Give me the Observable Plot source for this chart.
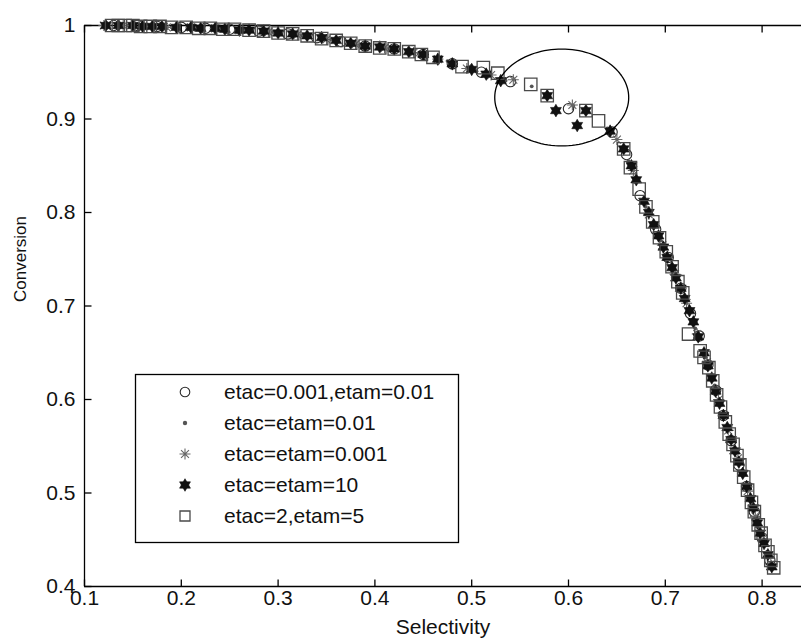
<!DOCTYPE html>
<html>
<head>
<meta charset="utf-8">
<script src="https://cdn.jsdelivr.net/npm/d3@7"></script>
<script src="https://cdn.jsdelivr.net/npm/@observablehq/plot@0.6"></script>
<style>
  html, body { margin: 0; padding: 0; background: #fff; }
  #chart { width: 801px; height: 644px; }
</style>
</head>
<body>
<div id="chart"></div>
<script>
// ---------- data ----------
const xDomain = [0.1, 0.8407];
const yDomain = [0.4, 1];
const xTicks = [0.1, 0.2, 0.3, 0.4, 0.5, 0.6, 0.7, 0.8];
const yTicks = [0.4, 0.5, 0.6, 0.7, 0.8, 0.9, 1];
const xLabel = "Selectivity";
const yLabel = "Conversion";
const seriesNames = ["etac=0.001,etam=0.01", "etac=etam=0.01", "etac=etam=0.001", "etac=etam=10", "etac=2,etam=5"];

// etac=0.001,etam=0.01 (circles)
const circlePts = [
  [0.13,1.000],[0.155,1.000],[0.175,0.999],[0.2,0.998],[0.225,0.997],[0.25,0.996],[0.28,0.994],
  [0.31,0.991],[0.34,0.987],[0.365,0.983],[0.39,0.978],[0.42,0.975],[0.45,0.969],[0.48,0.959],
  [0.51,0.950],[0.54,0.940],[0.6,0.911],[0.645,0.886],[0.66,0.862],[0.674,0.818],[0.69,0.782],
  [0.703,0.752],[0.716,0.719],[0.726,0.692],[0.735,0.668],[0.744,0.637],[0.752,0.610],[0.76,0.583],
  [0.768,0.556],[0.776,0.530],[0.784,0.507],[0.792,0.480],[0.8,0.452],[0.808,0.428]
];
// etac=etam=0.01 (points)
const pointPts = [
  [0.125,1.000],[0.145,1.000],[0.165,0.999],[0.19,0.998],[0.215,0.997],[0.24,0.996],[0.265,0.995],
  [0.295,0.993],[0.325,0.989],[0.355,0.985],[0.385,0.979],[0.415,0.975],[0.445,0.970],[0.475,0.962],
  [0.505,0.951],[0.535,0.941],[0.562,0.935],[0.605,0.914],[0.64,0.890],[0.662,0.855],[0.68,0.806],
  [0.695,0.770],[0.708,0.738],[0.72,0.708],[0.731,0.676],[0.742,0.645],[0.751,0.615],[0.761,0.581],
  [0.771,0.548],[0.78,0.522],[0.789,0.491],[0.797,0.462],[0.805,0.437],[0.81,0.423]
];
// etac=etam=0.001 (asterisks)
const starPts = [
  [0.12,1.000],[0.14,1.000],[0.16,0.999],[0.185,0.998],[0.21,0.998],[0.235,0.997],[0.26,0.995],
  [0.29,0.993],[0.32,0.990],[0.35,0.985],[0.38,0.980],[0.41,0.976],[0.44,0.971],[0.465,0.964],
  [0.495,0.954],[0.52,0.947],[0.543,0.942],[0.604,0.915],[0.65,0.878],[0.667,0.845],[0.683,0.798],
  [0.697,0.765],[0.71,0.734],[0.722,0.703],[0.733,0.670],[0.743,0.640],[0.755,0.600],[0.765,0.567],
  [0.775,0.537],[0.785,0.502],[0.793,0.475],[0.801,0.448],[0.809,0.424]
];
// etac=etam=10 (filled hexagrams)
const hexPts = [
  [0.122,1.000],[0.135,1.000],[0.15,1.000],[0.16,0.999],[0.17,0.999],[0.18,0.999],[0.195,0.998],
  [0.21,0.998],[0.22,0.997],[0.235,0.997],[0.245,0.996],[0.26,0.995],[0.27,0.995],[0.285,0.994],
  [0.3,0.992],[0.315,0.991],[0.33,0.989],[0.345,0.987],[0.36,0.984],[0.375,0.981],[0.39,0.978],
  [0.405,0.977],[0.42,0.975],[0.435,0.972],[0.45,0.969],[0.465,0.964],[0.48,0.959],[0.5,0.953],
  [0.515,0.948],[0.53,0.941],[0.578,0.925],[0.587,0.909],[0.609,0.893],[0.618,0.909],
  [0.643,0.887],[0.657,0.868],[0.665,0.850],[0.67,0.835],[0.678,0.812],[0.683,0.800],[0.688,0.787],
  [0.693,0.775],[0.698,0.763],[0.702,0.752],[0.707,0.741],[0.711,0.730],[0.716,0.719],[0.72,0.708],
  [0.725,0.695],[0.729,0.683],[0.734,0.667],[0.74,0.650],[0.744,0.636],[0.748,0.623],[0.752,0.609],
  [0.756,0.596],[0.76,0.583],[0.764,0.570],[0.768,0.557],[0.772,0.545],[0.776,0.533],[0.78,0.521],
  [0.784,0.507],[0.788,0.494],[0.791,0.484],[0.795,0.468],[0.798,0.457],[0.802,0.446],[0.806,0.434],
  [0.81,0.421]
];
// etac=2,etam=5 (squares)
const squarePts = [
  [0.128,1.000],[0.135,1.000],[0.142,1.000],[0.15,1.000],[0.158,0.999],[0.168,0.999],[0.178,0.999],
  [0.19,0.998],[0.205,0.998],[0.218,0.997],[0.23,0.997],[0.243,0.996],[0.255,0.996],[0.27,0.995],
  [0.285,0.994],[0.3,0.992],[0.315,0.991],[0.33,0.989],[0.345,0.986],[0.36,0.984],[0.375,0.981],
  [0.39,0.978],[0.405,0.976],[0.42,0.975],[0.435,0.972],[0.448,0.969],[0.46,0.966],[0.49,0.956],
  [0.512,0.955],[0.527,0.949],[0.561,0.937],[0.578,0.925],[0.618,0.909],[0.631,0.898],[0.657,0.868],
  [0.664,0.848],[0.673,0.825],[0.68,0.806],[0.687,0.790],[0.694,0.773],[0.701,0.758],[0.707,0.742],
  [0.713,0.726],[0.718,0.714],[0.724,0.670],[0.736,0.652],[0.74,0.645],[0.745,0.634],[0.749,0.620],
  [0.753,0.605],[0.757,0.592],[0.762,0.576],[0.766,0.563],[0.77,0.552],[0.774,0.540],[0.777,0.530],
  [0.781,0.517],[0.785,0.503],[0.789,0.490],[0.792,0.480],[0.796,0.466],[0.799,0.457],[0.803,0.444],
  [0.806,0.437],[0.809,0.428],[0.812,0.420]
];
// annotation ellipse (center x, center y, radius x, radius y) in data units
const ellipseSpec = [0.593, 0.923, 0.0692, 0.0518];

// ---------- symbols ----------
const rad = s => Math.sqrt(s / Math.PI);
const hexagram = {
  draw(ctx, size) {
    const r = rad(size);
    for (const off of [-90, 90]) {
      for (let i = 0; i < 3; i++) {
        const a = (off + i * 120) * Math.PI / 180;
        const px = r * Math.cos(a), py = r * Math.sin(a);
        if (i === 0) ctx.moveTo(px, py); else ctx.lineTo(px, py);
      }
      ctx.closePath();
    }
  }
};
const asterisk8 = {
  draw(ctx, size) {
    const r = rad(size), d = r * 0.72;
    ctx.moveTo(-r, 0); ctx.lineTo(r, 0);
    ctx.moveTo(0, -r); ctx.lineTo(0, r);
    ctx.moveTo(-d, -d); ctx.lineTo(d, d);
    ctx.moveTo(-d, d); ctx.lineTo(d, -d);
  }
};
const squareSym = {
  draw(ctx, size) { const h = rad(size); ctx.rect(-h, -h, 2 * h, 2 * h); }
};
const vTick = { draw(ctx) { ctx.moveTo(0, -3.5); ctx.lineTo(0, 3.5); } };
const hTick = { draw(ctx) { ctx.moveTo(-3.5, 0); ctx.lineTo(3.5, 0); } };

const styles = [
  {pts: circlePts, symbol: "circle", r: 5.2, fill: "none", stroke: "#2a2a2a", strokeWidth: 1.1},
  {pts: pointPts, symbol: "circle", r: 1.9, fill: "#555", stroke: "none", strokeWidth: 0},
  {pts: starPts, symbol: asterisk8, r: 5.5, fill: "none", stroke: "#666", strokeWidth: 1.1},
  {pts: hexPts, symbol: hexagram, r: 6.3, fill: "#111", stroke: "#111", strokeWidth: 0.6},
  {pts: squarePts, symbol: squareSym, r: 6.2, fill: "none", stroke: "#4a4a4a", strokeWidth: 1.3}
];

const ellipsePts = d3.range(0, 361, 3).map(t => [
  ellipseSpec[0] + ellipseSpec[2] * Math.cos(t * Math.PI / 180),
  ellipseSpec[1] + ellipseSpec[3] * Math.sin(t * Math.PI / 180)
]);

const fmt = d => String(d);

const svg = Plot.plot({
  width: 801,
  height: 644,
  marginLeft: 84,
  marginRight: 0,
  marginTop: 25,
  marginBottom: 58,
  style: {fontFamily: "'Liberation Sans', Arial, sans-serif", fontSize: "21px", background: "#fff", color: "#000"},
  x: {domain: xDomain, axis: null},
  y: {domain: yDomain, axis: null},
  marks: [
    // axis lines
    Plot.ruleY(yDomain, {stroke: "#000", strokeWidth: 1.3}),
    Plot.ruleX([xDomain[0]], {stroke: "#000", strokeWidth: 1.3}),
    // inward ticks
    Plot.dot(xTicks, {x: d => d, frameAnchor: "bottom", symbol: vTick, stroke: "#000", strokeWidth: 1.3, dy: -3.5}),
    Plot.dot(xTicks, {x: d => d, frameAnchor: "top", symbol: vTick, stroke: "#000", strokeWidth: 1.3, dy: 3.5}),
    Plot.dot(yTicks, {y: d => d, frameAnchor: "left", symbol: hTick, stroke: "#000", strokeWidth: 1.3, dx: 3.5}),
    // tick labels
    Plot.text(xTicks, {x: d => d, frameAnchor: "bottom", text: fmt, dy: 18, fontSize: 21, fill: "#111"}),
    Plot.text(yTicks, {y: d => d, frameAnchor: "left", text: fmt, textAnchor: "end", dx: -9, fontSize: 21, fill: "#111"}),
    // axis titles
    Plot.text([xLabel], {frameAnchor: "bottom", text: d => d, dy: 47, fontSize: 21, fill: "#111"}),
    Plot.text([yLabel], {frameAnchor: "left", text: d => d, rotate: -90, dx: -64, dy: -4, fontSize: 17, fill: "#111"}),
    // data series
    ...styles.map(s => Plot.dot(s.pts, {x: d => d[0], y: d => d[1], symbol: s.symbol, r: s.r, fill: s.fill, stroke: s.stroke, strokeWidth: s.strokeWidth})),
    // annotation ellipse
    Plot.line(ellipsePts, {x: d => d[0], y: d => d[1], stroke: "#000", strokeWidth: 1.3, curve: "linear"})
  ]
});

// legend
const lg = d3.select(svg).append("g")
  .attr("font-family", "'Liberation Sans', Arial, sans-serif")
  .attr("font-size", 21)
  .attr("text-anchor", "start");
lg.append("rect").attr("x", 135.5).attr("y", 374.5).attr("width", 323).attr("height", 168)
  .attr("fill", "#fff").attr("stroke", "#000").attr("stroke-width", 1.3);
const rowY = [392, 423, 454, 485, 516];
const legendSyms = [d3.symbolCircle, d3.symbolCircle, asterisk8, hexagram, squareSym];
styles.forEach((s, i) => {
  const size = Math.PI * (i === 4 ? 5 : i === 0 ? 4.8 : s.r) ** 2;
  lg.append("path")
    .attr("transform", `translate(185,${rowY[i]})`)
    .attr("d", d3.symbol().type(legendSyms[i]).size(i === 1 ? Math.PI * 2.2 ** 2 : size)())
    .attr("fill", s.fill).attr("stroke", s.stroke).attr("stroke-width", s.strokeWidth);
  lg.append("text").attr("x", 224).attr("y", rowY[i]).attr("dy", "0.35em")
    .attr("text-anchor", "start")
    .attr("fill", "#111").text(seriesNames[i]);
});

document.getElementById("chart").appendChild(svg);
</script>
</body>
</html>
